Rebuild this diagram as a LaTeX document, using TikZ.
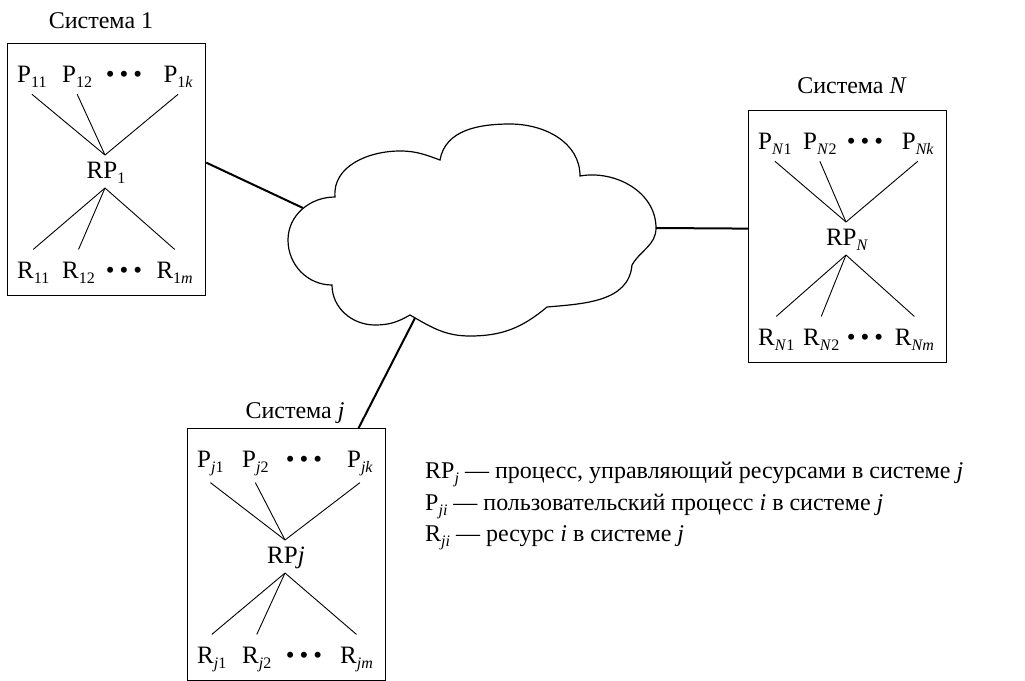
\documentclass[tikz,border=0pt]{standalone}
\usepackage{fontspec}
\setmainfont{Liberation Serif}
\usetikzlibrary{positioning,calc}

% lowered index, digits upright, letters given in \textit
\newcommand{\ix}[1]{\raisebox{-5pt}{\fontsize{16}{16}\selectfont #1}}

% one system: prefix, origin, idx1, idx2, idx k, idx m, RP text
\newcommand{\sysblock}[7]{%
  \begin{scope}[shift={(#2)}]
    \node[frame] (#1box) at (0,0) {};
    \node[proc, anchor=base west] (#1p1) at (9,-39) {P\ix{#3}};
    \node[proc, anchor=base west] (#1p2) at (54,-39) {P\ix{#4}};
    \node[proc, anchor=base] (#1pd) at (117,-39) {\dotsrow};
    \node[proc, anchor=base east] (#1pk) at (187,-39) {P\ix{#5}};
    \node[proc, anchor=base] (#1rp) at (99,-135) {#7};
    \coordinate (#1top) at (98,-112);
    \coordinate (#1bot) at (98,-145);
    \node[res, anchor=base west] (#1r1) at (9,-235) {R\ix{#3}};
    \node[res, anchor=base west] (#1r2) at (54,-235) {R\ix{#4}};
    \node[res, anchor=base] (#1rd) at (117,-235) {\dotsrow};
    \node[res, anchor=base east] (#1rm) at (187,-235) {R\ix{#6}};
    \draw[spoke] (#1p1.south) -- (#1top);
    \draw[spoke] (#1p2.south) -- (#1top);
    \draw[spoke] (#1pk.south) -- (#1top);
    \draw[spoke] (#1bot) -- (#1r1.north);
    \draw[spoke] (#1bot) -- (#1r2.north);
    \draw[spoke] (#1bot) -- (#1rm.north);
  \end{scope}}
\newcommand{\dotsrow}{\textbullet\hspace{5pt}\textbullet\hspace{5pt}\textbullet}

\tikzset{
  frame/.style={draw, line width=1.2pt, minimum width=198pt, minimum height=252pt,
    anchor=north west, inner sep=0pt},
  proc/.style={inner xsep=1pt, inner ysep=7pt, font=\fontsize{25}{27}\selectfont},
  res/.style={proc, inner ysep=12pt},
  title/.style={inner sep=0pt, font=\fontsize{24}{27}\selectfont},
  legend/.style={inner sep=0pt, font=\fontsize{24}{27}\selectfont},
  spoke/.style={line width=0.9pt},
  link/.style={line width=2pt},
  netline/.style={line width=1.2pt}
}

\begin{document}
\begin{tikzpicture}[x=1pt, y=1pt]
  \useasboundingbox (0,0) rectangle (1025,-680);

  % the network
  \draw[netline] (335,-197)
    to[out=95,in=180] (400,-151) to[out=0,in=160] (440,-160)
    to[out=80,in=180] (510,-124) to[out=0,in=90] (580,-176)
    to[out=10,in=90] (656,-228) to[out=-90,in=60] (632,-265)
    to[out=-95,in=5] (547,-307)
    to[out=-140,in=0] (470,-336) to[out=180,in=-30] (410,-315)
    to[out=-150,in=0] (375,-325) to[out=180,in=-90] (332,-285)
    to[out=180,in=-90] (288,-240) to[out=90,in=180] (335,-197) -- cycle;
  \coordinate (netw) at (303,-208);
  \coordinate (nete) at (656,-228);
  \coordinate (nets) at (415,-318);

  % systems
  \sysblock{s1}{7,-43}{11}{12}{1\textit{k}}{1\textit{m}}{RP\ix{1}}
  \sysblock{sN}{748,-110}{\textit{N}1}{\textit{N}2}{\textit{Nk}}{\textit{Nm}}{RP\ix{\textit{N}}}
  \sysblock{sj}{187,-428}{\textit{j}1}{\textit{j}2}{\textit{jk}}{\textit{jm}}{RP\textit{j}}

  \node[title, anchor=base] (t1) at (101,-28) {Система 1};
  \node[title, anchor=base] (tN) at (852,-93) {Система \textit{N}};
  \node[title, anchor=base] (tj) at (295,-418) {Система \textit{j}};

  % links to the network
  \draw[link] ([yshift=7pt]s1box.east) -- (netw);
  \draw[link] (nete) -- ([yshift=8pt]sNbox.west);
  \draw[link] (nets) -- ([xshift=72pt]sjbox.north);

  % legend
  \node[legend, anchor=base west] (legrp) at (425,-478)
    {RP\ix{\textit{j}} — процесс, управляющий ресурсами в системе \textit{j}};
  \node[legend, anchor=base west] (legp) at (425,-510)
    {P\ix{\textit{ji}} — пользовательский процесс \textit{i} в системе \textit{j}};
  \node[legend, anchor=base west] (legr) at (425,-541)
    {R\ix{\textit{ji}} — ресурс \textit{i} в системе \textit{j}};
\end{tikzpicture}
\end{document}
